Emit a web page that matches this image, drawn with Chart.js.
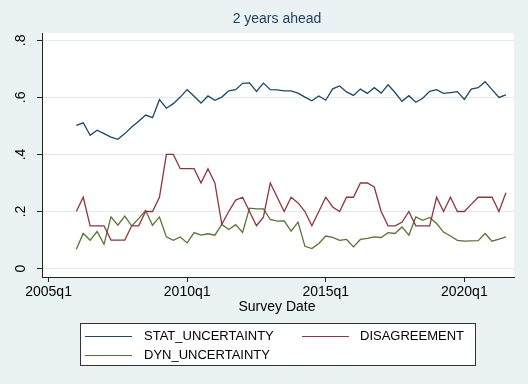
<!DOCTYPE html>
<html><head><meta charset="utf-8">
<script src="https://cdn.jsdelivr.net/npm/chart.js@4.4.1/dist/chart.umd.min.js"></script>
<style>
html,body{margin:0;padding:0;background:#eaf2f3;}
#wrap{position:relative;width:528px;height:384px;background:#eaf2f3;font-family:"Liberation Sans",Arial,sans-serif;overflow:hidden}
canvas{position:absolute;left:0;top:0}
.t{position:absolute;white-space:nowrap;text-align:center;font-size:14px;line-height:16px;color:#000}
#title{left:177px;width:200px;top:10px;color:#1c3d5a}
#xt{left:177px;width:200px;top:298px}
#legend{position:absolute;left:80px;top:323px;width:394px;height:41px;border:1px solid #333;background:#fff}
.li{position:absolute;height:16px;font-size:13px;line-height:16px;white-space:nowrap;color:#000}
.ls{position:absolute;height:1px}
</style></head><body>
<div id="wrap">
<canvas id="c" width="528" height="384"></canvas>
<div id="title" class="t">2 years ahead</div>
<div id="xt" class="t">Survey Date</div>
<div id="legend"></div>
</div>
<script>
const quarters = ["2006q1","2006q2","2006q3","2006q4","2007q1","2007q2","2007q3","2007q4",
"2008q1","2008q2","2008q3","2008q4","2009q1","2009q2","2009q3","2009q4",
"2010q1","2010q2","2010q3","2010q4","2011q1","2011q2","2011q3","2011q4",
"2012q1","2012q2","2012q3","2012q4","2013q1","2013q2","2013q3","2013q4",
"2014q1","2014q2","2014q3","2014q4","2015q1","2015q2","2015q3","2015q4",
"2016q1","2016q2","2016q3","2016q4","2017q1","2017q2","2017q3","2017q4",
"2018q1","2018q2","2018q3","2018q4","2019q1","2019q2","2019q3","2019q4",
"2020q1","2020q2","2020q3","2020q4","2021q1","2021q2","2021q3"];
const statUncertainty = [0.502,0.511,0.467,0.485,0.473,0.461,0.453,0.473,
0.496,0.516,0.538,0.529,0.592,0.562,0.578,0.601,
0.627,0.604,0.580,0.605,0.590,0.601,0.623,0.627,
0.649,0.651,0.621,0.650,0.627,0.626,0.623,0.623,
0.615,0.601,0.588,0.605,0.590,0.630,0.640,0.619,
0.607,0.629,0.614,0.634,0.615,0.644,0.617,0.586,
0.606,0.583,0.597,0.621,0.627,0.614,0.617,0.620,
0.593,0.629,0.634,0.655,0.627,0.600,0.609];
const disagreement = [0.20,0.25,0.15,0.15,0.15,0.10,0.10,0.10,
0.15,0.15,0.20,0.20,0.25,0.40,0.40,0.35,
0.35,0.35,0.30,0.35,0.30,0.155,0.20,0.24,
0.25,0.20,0.15,0.18,0.30,0.25,0.20,0.25,
0.23,0.20,0.15,0.20,0.25,0.216,0.20,0.25,
0.25,0.30,0.30,0.286,0.20,0.15,0.15,0.162,
0.20,0.15,0.15,0.15,0.25,0.20,0.25,0.20,
0.20,0.225,0.25,0.25,0.25,0.20,0.266];
const dynUncertainty = [0.068,0.123,0.099,0.130,0.085,0.181,0.152,0.184,
0.149,0.175,0.204,0.152,0.181,0.111,0.099,0.111,
0.090,0.126,0.117,0.122,0.117,0.155,0.137,0.154,
0.127,0.212,0.209,0.209,0.172,0.166,0.167,0.131,
0.163,0.078,0.070,0.088,0.114,0.109,0.099,0.102,
0.076,0.102,0.106,0.111,0.109,0.126,0.123,0.146,
0.117,0.181,0.169,0.179,0.158,0.128,0.114,0.099,
0.096,0.097,0.098,0.123,0.096,0.103,0.111];
const xTickLabels = ["2005q1","2010q1","2015q1","2020q1"];
const yTickValues = [0, 0.2, 0.4, 0.6, 0.8];
const yTickLabels = ["0", ".2", ".4", ".6", ".8"];
const seriesNames = ["STAT_UNCERTAINTY","DISAGREEMENT","DYN_UNCERTAINTY"];
const seriesColors = ["#1a476f","#90353b","#55752f"];

function qIndex(s){ const p = s.split('q'); return (parseInt(p[0],10)-2005)*4 + parseInt(p[1],10)-1; }
const FONT = '"Liberation Sans", Arial, sans-serif';
const seriesValues = [statUncertainty, disagreement, dynUncertainty];

const plotBg = {
  id:'plotBg',
  beforeDraw(chart){
    const a = chart.chartArea, ctx = chart.ctx;
    ctx.save(); ctx.fillStyle = '#ffffff';
    ctx.fillRect(a.left, a.top, a.right - a.left, a.bottom - a.top);
    ctx.restore();
  }
};
const yLabels = {
  id:'yLabels',
  afterDraw(chart){
    const s = chart.scales.y, ctx = chart.ctx;
    ctx.save();
    ctx.fillStyle = '#000';
    ctx.font = '14px ' + FONT;
    ctx.textAlign = 'center'; ctx.textBaseline = 'middle';
    yTickValues.forEach((v,i)=>{
      const y = s.getPixelForValue(v);
      ctx.save(); ctx.translate(21, y); ctx.rotate(-Math.PI/2);
      ctx.fillText(yTickLabels[i], 0, 0); ctx.restore();
    });
    ctx.restore();
  }
};

new Chart(document.getElementById('c'), {
  type:'line',
  data:{
    datasets: seriesNames.map((n,k)=>({
      label:n,
      data: quarters.map((q,i)=>({x:qIndex(q), y:seriesValues[k][i]})),
      borderColor: seriesColors[k], backgroundColor: seriesColors[k],
      borderWidth:1.3, pointRadius:0, tension:0, fill:false
    }))
  },
  options:{
    responsive:false, animation:false, devicePixelRatio:1,
    layout:{padding:{left:0,right:14,top:33,bottom:0}},
    plugins:{legend:{display:false}, title:{display:false}, tooltip:{enabled:false}},
    scales:{
      x:{
        type:'linear', min:-0.95, max:67.17,
        afterBuildTicks: s => { s.ticks = xTickLabels.map(l=>({value:qIndex(l)})); },
        afterFit: s => { s.height = 107; },
        grid:{drawOnChartArea:false, drawTicks:true, tickLength:5, tickColor:'#222', color:'#222'},
        border:{display:true, color:'#222', width:1},
        ticks:{autoSkip:false, maxRotation:0, minRotation:0, padding:2, color:'#000',
               font:{family:FONT, size:14}, callback:(v,i)=>xTickLabels[i]}
      },
      y:{
        type:'linear', min:-0.0295, max:0.8256,
        afterBuildTicks: s => { s.ticks = yTickValues.map(v=>({value:v})); },
        afterFit: s => { s.width = 42; },
        grid:{color:'#e0e9ec', lineWidth:1, drawTicks:true, tickLength:5, tickColor:'#222'},
        border:{display:true, color:'#222', width:1},
        ticks:{display:false}
      }
    }
  },
  plugins:[plotBg, yLabels]
});

const lg = document.getElementById('legend');
const pos = [[4,12,63],[221,12,279],[4,31,63]];
seriesNames.forEach((n,k)=>{
  const [lx, cy, tx] = pos[k];
  const ln = document.createElement('div'); ln.className='ls';
  ln.style.left = lx+'px'; ln.style.width='47px'; ln.style.top = cy+'px';
  ln.style.backgroundColor = seriesColors[k];
  lg.appendChild(ln);
  const tt = document.createElement('div'); tt.className='li';
  tt.style.left = tx+'px'; tt.style.top = (cy-8)+'px'; tt.textContent = n;
  lg.appendChild(tt);
});
</script>
</body></html>
